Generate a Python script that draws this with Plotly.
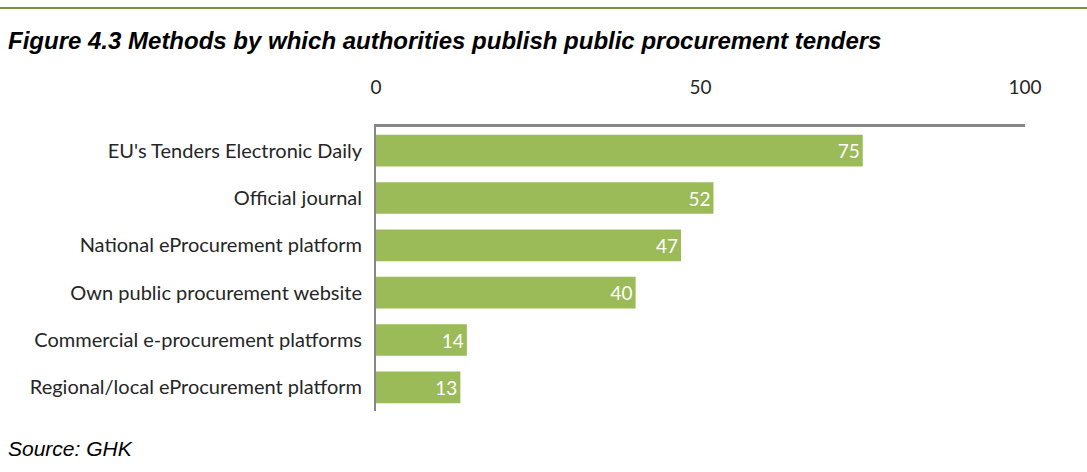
import plotly.graph_objects as go

categories = [
    "EU's Tenders Electronic Daily",
    "Official journal",
    "National eProcurement platform",
    "Own public procurement website",
    "Commercial e-procurement platforms",
    "Regional/local eProcurement platform",
]
values = [75, 52, 47, 40, 14, 13]
tick_vals = [0, 50, 100]

L, R, T, B = 376, 62, 127, 61
W, H = 1087, 472
pw, ph = W - L - R, H - T - B

def px_to_paper_x(x):
    return (x - L) / pw

def px_to_paper_y(y):
    return (H - B - y) / ph

fig = go.Figure()
fig.add_trace(go.Bar(
    x=values, y=categories, orientation="h",
    marker=dict(color="#9BBB59", line=dict(width=0)),
    text=[str(v) for v in values], textposition="inside",
    insidetextanchor="end",
    textfont=dict(color="white", size=19, family="Lato"),
    width=0.67,
    cliponaxis=False,
))

fig.update_layout(
    width=W, height=H,
    margin=dict(l=L, r=R, t=T, b=B),
    plot_bgcolor="white", paper_bgcolor="white",
    showlegend=False,
    uniformtext=dict(minsize=19, mode="show"),
    font=dict(family="Lato", size=19, color="#262626"),
    xaxis=dict(
        side="top", range=[0, 100], tickvals=tick_vals,
        showgrid=False, zeroline=False, showline=True,
        linecolor="#868686", linewidth=3, ticks="",
        ticklabelstandoff=22,
        tickfont=dict(size=19, color="#262626", family="Lato"),
        fixedrange=True,
    ),
    yaxis=dict(
        autorange="reversed", showgrid=False, zeroline=False,
        showline=True, linecolor="#868686", linewidth=2, ticks="",
        ticklabelstandoff=8,
        tickfont=dict(size=20, color="#262626", family="Lato"),
        fixedrange=True,
    ),
    shapes=[dict(
        type="line", xref="paper", yref="paper",
        x0=px_to_paper_x(0), x1=px_to_paper_x(W),
        y0=px_to_paper_y(8), y1=px_to_paper_y(8),
        line=dict(color="#77933C", width=2),
    )],
    annotations=[
        dict(text="<b><i>Figure 4.3 Methods by which authorities publish public procurement tenders</i></b>",
             xref="paper", yref="paper", x=px_to_paper_x(6), y=px_to_paper_y(40),
             xanchor="left", yanchor="middle", showarrow=False,
             font=dict(family="Liberation Sans", size=24, color="black")),
        dict(text="<i>Source: GHK</i>",
             xref="paper", yref="paper", x=px_to_paper_x(6), y=px_to_paper_y(448),
             xanchor="left", yanchor="middle", showarrow=False,
             font=dict(family="Liberation Sans", size=21, color="black")),
    ],
)

fig.write_html("out.html", config={"displayModeBar": False},
               post_script="document.body.style.margin='0';document.body.style.padding='0';")
